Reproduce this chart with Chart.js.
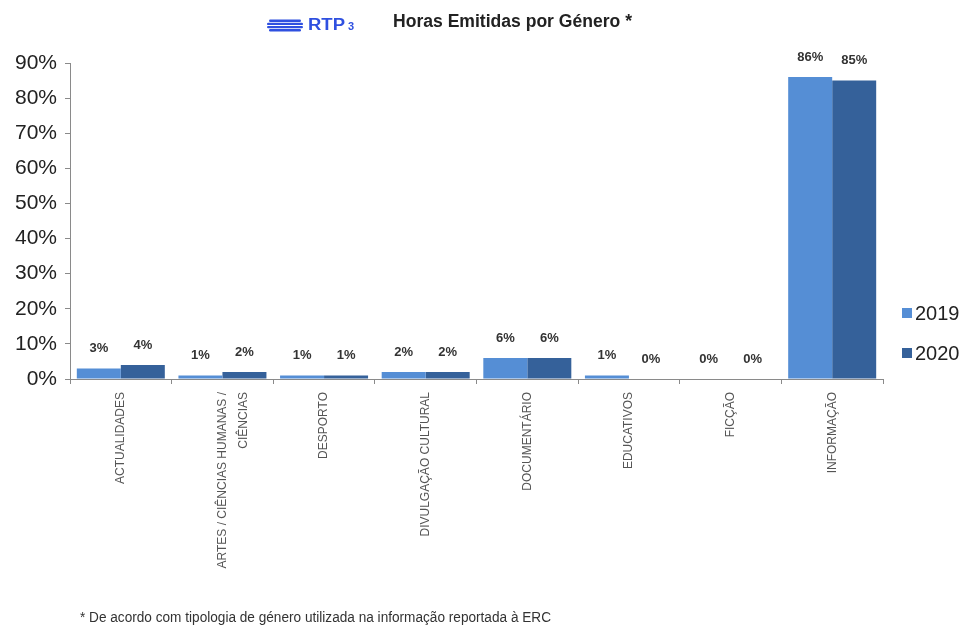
<!DOCTYPE html>
<html>
<head>
<meta charset="utf-8">
<script src="https://cdn.jsdelivr.net/npm/chart.js@4"></script>
<style>
  html, body { margin: 0; padding: 0; background: #fff; }
  #wrap { width: 963px; height: 626px; position: relative; }
</style>
</head>
<body>
<div id="wrap"><canvas id="horasChart" width="963" height="626"></canvas></div>
<script>
const categories = [
    "ACTUALIDADES",
    ["ARTES / CIÊNCIAS HUMANAS /", "CIÊNCIAS"],
    "DESPORTO",
    "DIVULGAÇÃO CULTURAL",
    "DOCUMENTÁRIO",
    "EDUCATIVOS",
    "FICÇÃO",
    "INFORMAÇÃO"
];
const years = ["2019", "2020"];
const values2019 = [3, 1, 1, 2, 6, 1, 0, 86];
const values2020 = [4, 2, 1, 2, 6, 0, 0, 85];
const yTicks = [0, 10, 20, 30, 40, 50, 60, 70, 80, 90];

const titleText = "Horas Emitidas por Género *";
const footnoteText = "* De acordo com tipologia de género utilizada na informação reportada à ERC";

const colors = ["#558ed5", "#35619a"];
const baseFont = "'Liberation Sans', Arial, sans-serif";

// texto com largura fixa (fonte condensada)
function fitText(ctx, text, x, y, width) {
    const w = ctx.measureText(text).width;
    ctx.save();
    ctx.translate(x, y);
    ctx.scale(width / w, 1);
    ctx.fillText(text, 0, 0);
    ctx.restore();
}

// cabeçalho: logótipo RTP3 + título + nota de rodapé
const headerPlugin = {
    id: "header",
    afterDraw(chart) {
        const ctx = chart.ctx;
        ctx.save();
        ctx.fillStyle = "#2f50e0";
        for (let i = 0; i < 4; i++) {
            const y = 19.5 + i * 3.2;
            const inset = (i === 0 || i === 3) ? 2 : 0;
            ctx.beginPath();
            ctx.roundRect(267 + inset, y, 36 - inset * 2, 2.4, 1.2);
            ctx.fill();
        }
        ctx.font = "bold 16px " + baseFont;
        ctx.textBaseline = "middle";
        ctx.textAlign = "left";
        fitText(ctx, "RTP", 308, 25.5, 37);
        ctx.font = "bold 11px " + baseFont;
        ctx.fillText("3", 348, 26.5);

        ctx.fillStyle = "#222";
        ctx.font = "bold 18px " + baseFont;
        fitText(ctx, titleText, 393, 22, 239);

        ctx.fillStyle = "#333";
        ctx.font = "14px " + baseFont;
        fitText(ctx, footnoteText, 80, 618, 471);
        ctx.restore();
    }
};

// percentagens por cima das barras
const valueLabels = {
    id: "valueLabels",
    afterDatasetsDraw(chart) {
        const ctx = chart.ctx;
        ctx.save();
        ctx.font = "bold 13px " + baseFont;
        ctx.fillStyle = "#333";
        ctx.textAlign = "center";
        ctx.textBaseline = "middle";
        chart.data.datasets.forEach((ds, i) => {
            chart.getDatasetMeta(i).data.forEach((bar, j) => {
                ctx.fillText(ds.data[j] + "%", bar.x, bar.y - 20);
            });
        });
        ctx.restore();
    }
};

// legenda à direita
const sideLegend = {
    id: "sideLegend",
    afterDraw(chart) {
        const ctx = chart.ctx;
        ctx.save();
        ctx.font = "20px " + baseFont;
        ctx.textBaseline = "middle";
        chart.data.datasets.forEach((ds, i) => {
            const y = 313 + i * 40;
            ctx.fillStyle = ds.backgroundColor;
            ctx.fillRect(902, y - 5, 10, 10);
            ctx.fillStyle = "#222";
            ctx.fillText(ds.label, 915, y + 1);
        });
        ctx.restore();
    }
};

const ctx = document.getElementById("horasChart").getContext("2d");
new Chart(ctx, {
    type: "bar",
    data: {
        labels: categories,
        datasets: [
            { label: years[0], data: values2019, backgroundColor: colors[0] },
            { label: years[1], data: values2020, backgroundColor: colors[1] }
        ]
    },
    options: {
        responsive: false,
        animation: false,
        layout: { padding: { top: 63, right: 80, bottom: 0, left: 0 } },
        datasets: {
            bar: { categoryPercentage: 0.866, barPercentage: 1.0, borderWidth: 0 }
        },
        plugins: {
            legend: { display: false },
            tooltip: { enabled: false }
        },
        scales: {
            x: {
                border: { color: "#8a8a8a", width: 1 },
                grid: { drawOnChartArea: false, drawTicks: true, tickLength: 5, color: "#8a8a8a", offset: true },
                ticks: {
                    minRotation: 90,
                    maxRotation: 90,
                    autoSkip: false,
                    padding: 8,
                    color: "#555",
                    font: { family: baseFont, size: 12, lineHeight: 1.8 }
                },
                afterFit: (scale) => { scale.height = 247; }
            },
            y: {
                min: 0,
                max: 90,
                afterBuildTicks: (scale) => { scale.ticks = yTicks.map(v => ({ value: v })); },
                border: { color: "#8a8a8a", width: 1 },
                grid: { drawOnChartArea: false, drawTicks: true, tickLength: 5, color: "#8a8a8a" },
                ticks: {
                    padding: 8,
                    color: "#222",
                    font: { family: baseFont, size: 21 },
                    callback: (v) => v + "%"
                },
                afterFit: (scale) => { scale.width = 70; }
            }
        }
    },
    plugins: [headerPlugin, valueLabels, sideLegend]
});
</script>
</body>
</html>
